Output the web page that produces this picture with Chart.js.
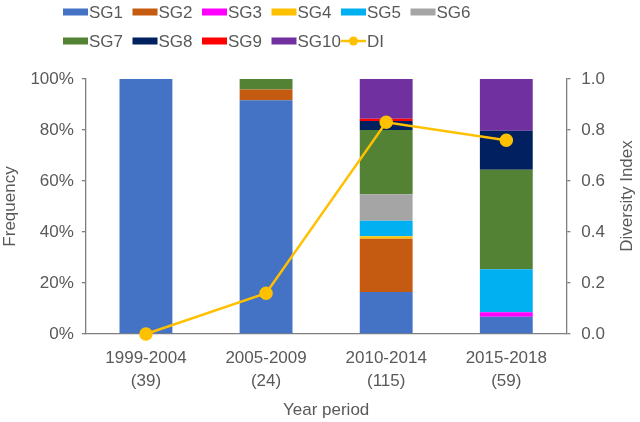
<!DOCTYPE html>
<html>
<head>
<meta charset="utf-8">
<script src="https://cdn.jsdelivr.net/npm/chart.js@4.4.1/dist/chart.umd.min.js"></script>
<style>
  html, body { margin: 0; padding: 0; background: #fff; }
  #wrap { width: 640px; height: 422px; }
</style>
</head>
<body>
<div id="wrap"><canvas id="freqChart"></canvas></div>
<script>
// categories
const periods = ["1999-2004", "2005-2009", "2010-2014", "2015-2018"];
const sampleCounts = ["(39)", "(24)", "(115)", "(59)"];

// stacked frequency (%) per group
const sg1 = [100, 91.7, 16.5, 6.8];
const sg2 = [0, 4.2, 20.9, 0];
const sg3 = [0, 0, 0, 1.7];
const sg4 = [0, 0, 0.9, 0];
const sg5 = [0, 0, 6.1, 16.9];
const sg6 = [0, 0, 10.4, 0];
const sg7 = [0, 4.2, 25.2, 39.0];
const sg8 = [0, 0, 3.5, 15.3];
const sg9 = [0, 0, 0.9, 0];
const sg10 = [0, 0, 15.6, 20.3];

// diversity index
const diversity = [0, 0.16, 0.83, 0.76];

const leftTicks = [0, 20, 40, 60, 80, 100];
const rightTicks = [0, 0.2, 0.4, 0.6, 0.8, 1.0];

const textColor = "#595959";
const axisColor = "#7f7f7f";
const fontFamily = "'Liberation Sans', Arial, sans-serif";
const fontSize = 17;

const groups = [
  ["SG1", sg1, "#4472C4"],
  ["SG2", sg2, "#C55A11"],
  ["SG3", sg3, "#FF00FF"],
  ["SG4", sg4, "#FFC000"],
  ["SG5", sg5, "#00B0F0"],
  ["SG6", sg6, "#A5A5A5"],
  ["SG7", sg7, "#548235"],
  ["SG8", sg8, "#002060"],
  ["SG9", sg9, "#FF0000"],
  ["SG10", sg10, "#7030A0"],
];

const datasets = groups.map(([label, data, color]) => ({
  type: "bar",
  label: label,
  data: data,
  backgroundColor: color,
  borderWidth: 0,
  yAxisID: "y",
  stack: "freq",
  order: 1,
  categoryPercentage: 1,
  barPercentage: 0.44,
}));

datasets.push({
  type: "line",
  label: "DI",
  data: diversity,
  borderColor: "#FFC000",
  backgroundColor: "#FFC000",
  borderWidth: 2.5,
  pointRadius: 5.5,
  pointHoverRadius: 5.5,
  yAxisID: "y1",
  order: 0,
  clip: false,
});

// Excel style legend: fixed grid columns, left aligned rows
// plus the right axis title, which reads bottom-to-top here
const gridLegend = {
  id: "gridLegend",
  afterDraw(chart) {
    const ctx = chart.ctx;
    const colW = 69.5, startX = 63, rowY = [12, 41], perRow = 6;
    ctx.save();
    ctx.font = fontSize + "px " + fontFamily;
    ctx.textBaseline = "middle";
    ctx.textAlign = "left";
    chart.data.datasets.forEach((ds, i) => {
      const x = startX + (i % perRow) * colW;
      const y = rowY[Math.floor(i / perRow)];
      if (ds.type === "line") {
        ctx.strokeStyle = ds.borderColor;
        ctx.lineWidth = 2.5;
        ctx.beginPath();
        ctx.moveTo(x, y);
        ctx.lineTo(x + 25, y);
        ctx.stroke();
        ctx.fillStyle = ds.backgroundColor;
        ctx.beginPath();
        ctx.arc(x + 12.5, y, 4.5, 0, Math.PI * 2);
        ctx.fill();
      } else {
        ctx.fillStyle = ds.backgroundColor;
        ctx.fillRect(x, y - 3.5, 25, 7);
      }
      ctx.fillStyle = textColor;
      ctx.fillText(ds.label, x + 26, y + 1);
    });

    ctx.translate(627, 196);
    ctx.rotate(-Math.PI / 2);
    ctx.textAlign = "center";
    ctx.fillText("Diversity Index", 0, 0);
    ctx.restore();
  },
};

new Chart(document.getElementById("freqChart"), {
  data: {
    labels: periods.map((p, i) => [p, sampleCounts[i]]),
    datasets: datasets,
  },
  options: {
    responsive: true,
    maintainAspectRatio: false,
    animation: false,
    layout: { padding: { top: 79, left: 0, right: 24, bottom: 1 } },
    plugins: {
      legend: { display: false },
      tooltip: { enabled: false },
    },
    scales: {
      x: {
        stacked: true,
        grid: { display: false },
        border: { display: true, color: axisColor, width: 1.3 },
        ticks: {
          color: textColor,
          font: { size: fontSize, family: fontFamily, lineHeight: 1.4 },
          padding: 4,
          maxRotation: 0,
        },
        title: {
          display: true,
          text: "Year period",
          color: textColor,
          font: { size: fontSize, family: fontFamily },
          padding: { top: 3, bottom: 0 },
        },
      },
      y: {
        stacked: true,
        position: "left",
        min: 0,
        max: 100,
        afterBuildTicks: (axis) => { axis.ticks = leftTicks.map(v => ({ value: v })); },
        grid: { drawOnChartArea: false, color: axisColor, tickLength: 4, lineWidth: 1.3 },
        border: { display: true, color: axisColor, width: 1.3 },
        ticks: {
          color: textColor,
          font: { size: fontSize, family: fontFamily },
          padding: 8,
          callback: (v) => v + "%",
        },
        title: {
          display: true,
          text: "Frequency",
          color: textColor,
          font: { size: fontSize, family: fontFamily },
          padding: { top: 0, bottom: 2 },
        },
      },
      y1: {
        position: "right",
        min: 0,
        max: 1,
        afterBuildTicks: (axis) => { axis.ticks = rightTicks.map(v => ({ value: v })); },
        grid: { drawOnChartArea: false, color: axisColor, tickLength: 4, lineWidth: 1.3 },
        border: { display: true, color: axisColor, width: 1.3 },
        ticks: {
          color: textColor,
          font: { size: fontSize, family: fontFamily },
          padding: 11,
          callback: (v) => Number(v).toFixed(1),
        },
        title: { display: false },
      },
    },
  },
  plugins: [gridLegend],
});
</script>
</body>
</html>
